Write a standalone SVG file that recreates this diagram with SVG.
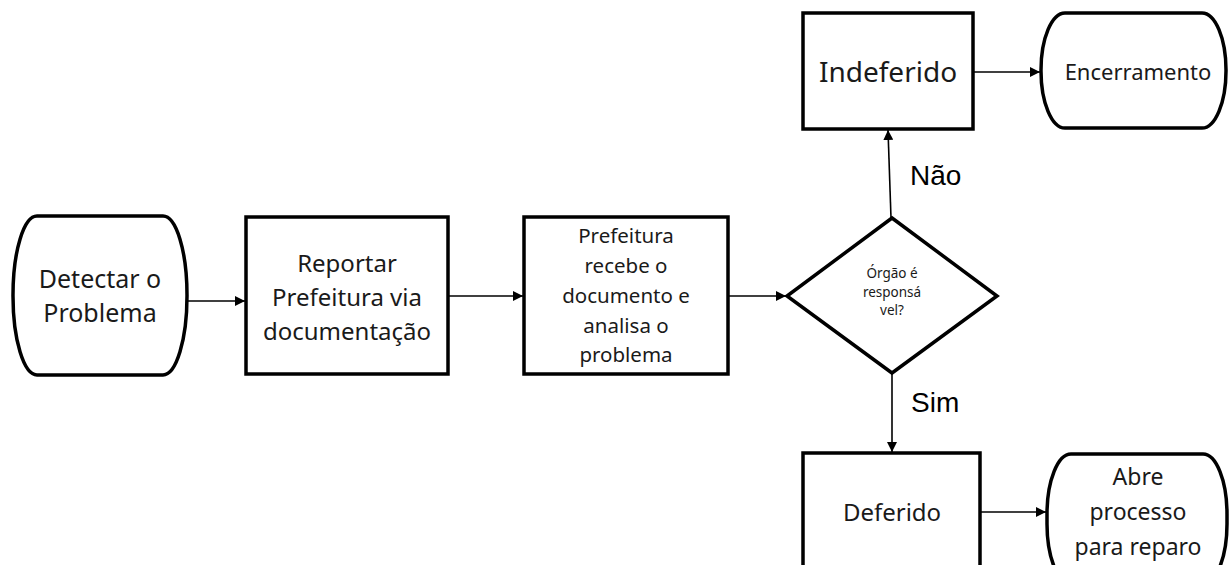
<svg xmlns="http://www.w3.org/2000/svg" width="1230" height="565" viewBox="0 0 1230 565">
<style>
.box{fill:#fff;stroke:#000;stroke-width:3.5}
.t{font-family:"Noto Sans","Open Sans",sans-serif;fill:#1a1a1a;text-anchor:middle}
.lbl{font-family:"Liberation Sans",Arial,sans-serif;fill:#000;font-size:28px}
.c{stroke:#000;stroke-width:1.6;fill:none;marker-end:url(#ah)}
</style>
<defs>
<marker id="ah" viewBox="0 0 10 10" refX="10" refY="5" markerWidth="10" markerHeight="10" markerUnits="userSpaceOnUse" orient="auto">
<path d="M0,0 L10,5 L0,10 z" fill="#000"/>
</marker>
</defs>
<rect width="1230" height="565" fill="#fff"/>
<g id="connectors">
<line class="c" x1="187" y1="301" x2="245" y2="301"/>
<line class="c" x1="448" y1="296" x2="523" y2="296"/>
<line class="c" x1="728" y1="296" x2="786" y2="296"/>
<line class="c" x1="891" y1="218" x2="888" y2="130"/>
<line class="c" x1="892" y1="373" x2="892" y2="452"/>
<line class="c" x1="973" y1="72" x2="1040" y2="72"/>
<line class="c" x1="980" y1="512" x2="1046" y2="512"/>
<text class="lbl" x="910" y="185">Não</text>
<text class="lbl" x="911" y="412">Sim</text>
</g>
<g id="detectar">
<rect class="box" x="13" y="216" width="174" height="159" rx="24" ry="79"/>
<text class="t" font-size="25" x="100" y="288">Detectar o</text>
<text class="t" font-size="25" x="100" y="322">Problema</text>
</g>
<g id="reportar">
<rect class="box" x="246" y="217" width="202" height="157"/>
<text class="t" font-size="24" x="347" y="272">Reportar</text>
<text class="t" font-size="24" x="347" y="306">Prefeitura via</text>
<text class="t" font-size="24" x="347" y="340">documentação</text>
</g>
<g id="analisa">
<rect class="box" x="524" y="217" width="204" height="157"/>
<text class="t" font-size="20.5" x="626" y="243">Prefeitura</text>
<text class="t" font-size="20.5" x="626" y="273">recebe o</text>
<text class="t" font-size="20.5" x="626" y="303">documento e</text>
<text class="t" font-size="20.5" x="626" y="333">analisa o</text>
<text class="t" font-size="20.5" x="626" y="362">problema</text>
</g>
<g id="decisao">
<polygon class="box" points="892,218 997,296 892,373 787,296"/>
<text class="t" font-size="13.5" x="892" y="278">Órgão é</text>
<text class="t" font-size="13.5" x="892" y="296.5">responsá</text>
<text class="t" font-size="13.5" x="892" y="315">vel?</text>
</g>
<g id="indeferido">
<rect class="box" x="803" y="13" width="170" height="116"/>
<text class="t" font-size="28" x="888" y="82">Indeferido</text>
</g>
<g id="encerramento">
<rect class="box" x="1041" y="13" width="185" height="115" rx="24" ry="57"/>
<text class="t" font-size="22" x="1138" y="80">Encerramento</text>
</g>
<g id="deferido">
<rect class="box" x="803" y="453" width="177" height="130"/>
<text class="t" font-size="24" x="892" y="521">Deferido</text>
</g>
<g id="abre">
<rect class="box" x="1047" y="454" width="180" height="130" rx="24" ry="60"/>
<text class="t" font-size="23" x="1138" y="485">Abre</text>
<text class="t" font-size="23" x="1138" y="520">processo</text>
<text class="t" font-size="23" x="1138" y="555">para reparo</text>
</g>
</svg>
